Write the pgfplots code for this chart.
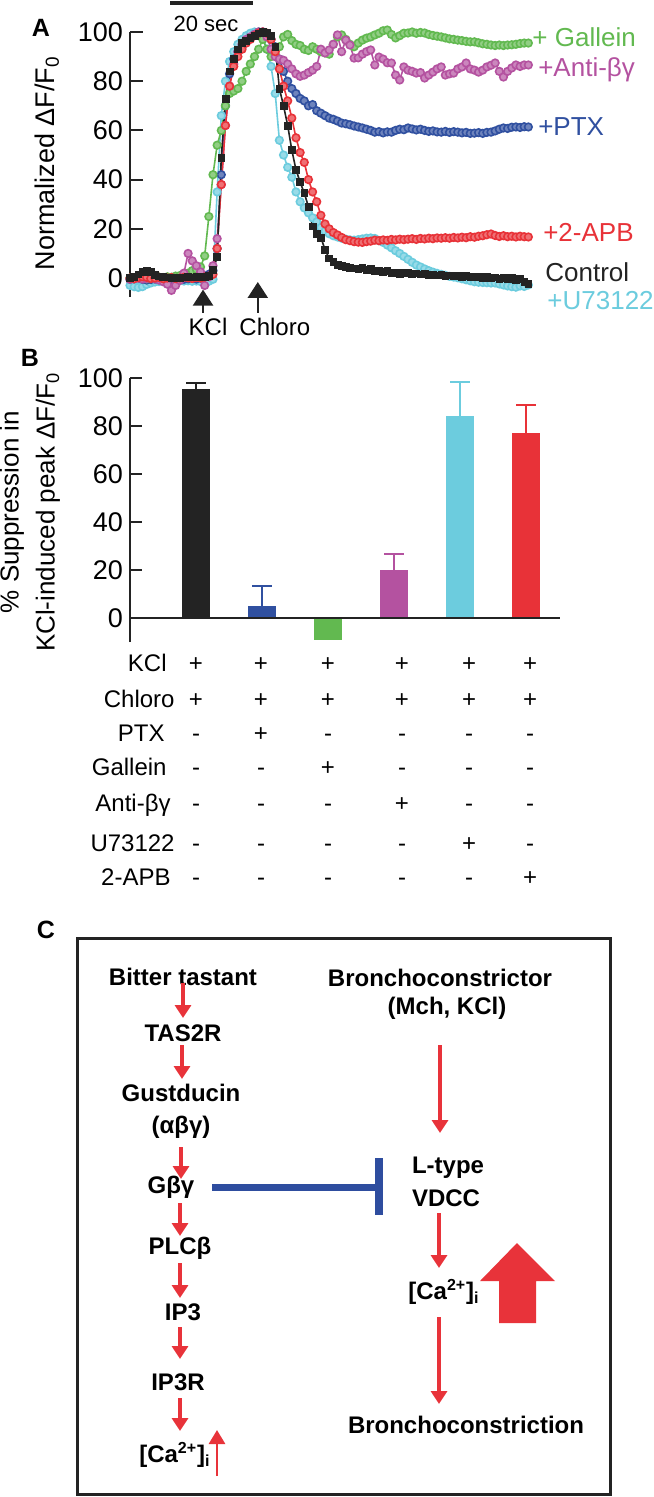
\documentclass[border=0pt]{standalone}
\usepackage{fontspec}
\setmainfont{Liberation Sans}
\usepackage{pgfplots}
\pgfplotsset{compat=1.18}
\usetikzlibrary{arrows.meta}
\definecolor{cK}{RGB}{35,35,35}
\definecolor{cG}{RGB}{98,185,80}
\definecolor{cP}{RGB}{180,82,160}
\definecolor{cB}{RGB}{48,80,160}
\definecolor{cR}{RGB}{232,50,56}
\definecolor{cC}{RGB}{108,204,222}
\definecolor{cRR}{RGB}{232,51,58}
\definecolor{cBB}{RGB}{46,77,159}
\newcommand{\fs}[1]{\fontsize{#1}{#1}\selectfont}
\pgfplotsset{
  trc/.style={color=#1, line width=0.8pt, mark=*, mark size=1.9pt,
    mark options={line width=0.8pt, draw=#1, fill=#1!70!white}},
}
\begin{document}
\begin{tikzpicture}
\fill[white] (0,0) rectangle (326.5pt,-748.5pt);
\path[use as bounding box] (0,0) rectangle (326.5pt,-748.5pt);

% ---------------- Panel A ----------------
\begin{axis}[
  at={(65pt,-148.5pt)}, anchor=south west,
  scale only axis, width=200pt, height=132.5pt,
  xmin=0, xmax=96.4, ymin=-7.7, ymax=100,
  axis x line=none, axis y line=left,
  y axis line style={-, line width=1pt, color=cK},
  ytick={0,20,40,60,80,100},
  tick align=inside, major tick length=6.5pt,
  ytick style={line width=1pt, color=cK},
  yticklabel style={font=\fs{13.5}},
  /pgf/number format/assume math mode=true,
  clip=false,
]
% +U73122
\addplot[trc=cC] coordinates {(0,-3)(1,-3.5)(2,-3.8)(3,-3.5)(4,-2.6)(5,-2)(6,-1.6)(7,-1.4)(8,-1.2)(9,-1.3)(10,-1.1)(11,-1.2)(12,-1)(13,-1.2)(14,-1.1)(15,-1.3)(16,-1.2)(17,-1.4)(18,-1.5)(19,-1.3)(20,-0.5)(21,35)(22,66)(23,80)(24,88)(25,92)(26,95)(27,97)(28,98.5)(29,99.5)(30,100)(31,99.8)(32,98)(33,93)(34,86)(35,75)(36,56)(37,50)(38,45)(39,41)(40,35)(41,31)(42,28.5)(43,26.5)(44,24.5)(45,22.8)(46,20.5)(47,19)(48,18)(49,17.2)(50,16.7)(51,16.2)(52,15.8)(53,15.5)(54,15.4)(55,15.6)(56,15.9)(57,16.2)(58,16.3)(59,16.1)(60,15.2)(61,14.5)(62,13.4)(63,12.3)(64,11.1)(65,10)(66,8.8)(67,7.6)(68,6.4)(69,5.3)(70,4.5)(71,3.7)(72,3)(73,2.4)(74,1.9)(75,1.5)(76,1.1)(77,0.7)(78,0.4)(79,0.1)(80,-0.3)(81,-0.7)(82,-1.1)(83,-1.5)(84,-1.7)(85,-1.8)(86,-1.9)(87,-2)(88,-2)(89,-2.4)(90,-2.8)(91,-3.2)(92,-3.5)(93,-3.7)(94,-3.2)(95,-3.4)(96,-2.8)};
% +PTX
\addplot[trc=cB] coordinates {(0,-0.5)(1,-0.3)(2,0)(3,-0.5)(4,-0.8)(5,-0.6)(6,-0.4)(7,-0.7)(8,-0.5)(9,-0.3)(10,-0.6)(11,-0.4)(12,-0.2)(13,-0.5)(14,-0.3)(15,-0.1)(16,-0.4)(17,0)(18,0.5)(19,1.5)(20,3)(21,12)(22,42)(23,70)(24,83)(25,89)(26,92)(27,94)(28,96)(29,97.5)(30,99)(31,100)(32,100)(33,99)(34,97)(35,94)(36,89)(37,84)(38,80)(39,77)(40,75)(41,73)(42,72)(43,70)(44,70.5)(45,68)(46,67)(47,66)(48,65)(49,64.5)(50,63.8)(51,63)(52,62.7)(53,62.3)(54,61.8)(55,61.4)(56,61)(57,60.5)(58,60)(59,59.3)(60,59.5)(61,59)(62,59.4)(63,59.3)(64,60)(65,60.5)(66,60.3)(67,61)(68,60.6)(69,60.2)(70,60.5)(71,60)(72,59.6)(73,59.8)(74,59.4)(75,59.3)(76,59.6)(77,59.2)(78,59.5)(79,59.3)(80,59)(81,59.2)(82,58.8)(83,58.9)(84,59.1)(85,58.8)(86,59.2)(87,59.3)(88,59.8)(89,60.5)(90,61)(91,60.8)(92,61.3)(93,61.4)(94,61.2)(95,61.5)(96,61.4)};
% + Gallein
\addplot[trc=cG] coordinates {(0,0)(1,-0.2)(2,0.3)(3,0)(4,-0.3)(5,0.2)(6,0)(7,0.4)(8,0.2)(9,0.5)(10,0.3)(11,0.8)(12,1)(13,1.5)(14,2)(15,3)(16,3.5)(17,4.5)(18,9)(19,25)(20,42)(21,54)(22,60)(23,70)(24,75)(25,76)(26,77)(27,80)(28,84)(29,87)(30,90)(31,93)(32,97)(33,93)(34,90)(35,91)(36,94)(37,98)(38,99)(39,96.5)(40,95)(41,94.5)(42,93)(43,92.5)(44,94)(45,93)(46,92)(47,91.5)(48,91)(49,95)(50,98)(51,98.8)(52,97)(53,95)(54,94)(55,95.5)(56,96.7)(57,97.5)(58,98)(59,98.8)(60,99.5)(61,100.5)(62,100.8)(63,99)(64,97.6)(65,98.5)(66,99.5)(67,99.6)(68,100)(69,99.5)(70,99.8)(71,99.6)(72,99)(73,98.6)(74,98.3)(75,98)(76,97.6)(77,97.2)(78,97)(79,96.7)(80,96.5)(81,96.2)(82,96)(83,96)(84,95.6)(85,95.2)(86,95)(87,94.7)(88,94.5)(89,94.7)(90,94.5)(91,94.7)(92,94.8)(93,95)(94,95.3)(95,95.5)(96,95.5)};
% +Anti-beta-gamma
\addplot[trc=cP] coordinates {(0,-0.5)(1,-0.3)(2,0)(3,-0.4)(4,-0.2)(5,0.2)(6,-0.3)(7,-0.8)(8,-1.5)(9,-2.5)(10,-5)(11,-3)(12,-1)(13,2)(14,10)(15,7)(16,5)(17,2.5)(18,-3)(19,0.5)(20,5)(21,16)(22,38)(23,62)(24,78)(25,87)(26,92)(27,95)(28,97)(29,98)(30,99)(31,100)(32,100)(33,98)(34,93)(35,90)(36,89)(37,88.5)(38,87)(39,85)(40,83)(41,82)(42,82.5)(43,83.5)(44,84.5)(45,86)(46,93)(47,91.5)(48,92.7)(49,95)(50,98.8)(51,92)(52,96.7)(53,94.7)(54,89.4)(55,89.5)(56,91)(57,92)(58,92.7)(59,86.6)(60,89.8)(61,89)(62,87.5)(63,87.4)(64,82.5)(65,80.5)(66,85.8)(67,84.5)(68,84)(69,83.3)(70,83.5)(71,81.3)(72,82.5)(73,83.7)(74,85)(75,85.8)(76,82.5)(77,83)(78,83.3)(79,85)(80,85.8)(81,87.4)(82,85)(83,84.5)(84,83.7)(85,84.5)(86,85.8)(87,86.5)(88,87.4)(89,84)(90,81.7)(91,84)(92,85.4)(93,86.6)(94,86)(95,86.6)(96,86.6)};
% +2-APB
\addplot[trc=cR] coordinates {(0,0)(1,-0.3)(2,0.2)(3,0.5)(4,0.3)(5,-0.2)(6,0)(7,0.3)(8,-0.3)(9,0)(10,0.2)(11,-0.2)(12,0)(13,0.3)(14,0.1)(15,-0.2)(16,0.2)(17,0)(18,0.4)(19,0.8)(20,1.5)(21,12)(22,38)(23,62)(24,78)(25,86)(26,90)(27,93)(28,95.5)(29,97)(30,98.5)(31,99.5)(32,100)(33,99.5)(34,97)(35,92)(36,85)(37,78)(38,72)(39,65)(40,57)(41,51)(42,47)(43,40)(44,35)(45,31)(46,25.5)(47,22)(48,20)(49,18.5)(50,17.5)(51,16.5)(52,15.6)(53,15.2)(54,14.8)(55,14.6)(56,14.5)(57,14.8)(58,15)(59,15.4)(60,15.2)(61,15.5)(62,15.3)(63,15.7)(64,15.5)(65,15.8)(66,15.6)(67,15.8)(68,16)(69,15.7)(70,16.1)(71,15.9)(72,16.2)(73,16)(74,16.3)(75,16.2)(76,16.4)(77,16.2)(78,16.5)(79,16.3)(80,16.6)(81,16.4)(82,16.8)(83,16.6)(84,17)(85,17.2)(86,17.6)(87,17.9)(88,17.3)(89,16.9)(90,17.2)(91,16.8)(92,17)(93,16.7)(94,17)(95,16.8)(96,16.7)};
% Control
\addplot[color=cK, line width=0.8pt, mark=square*, mark size=1.7pt, mark options={fill=cK, line width=0.3pt}] coordinates {(0,0.2)(1,0.5)(2,1.5)(3,2.6)(4,2.8)(5,2.4)(6,1.2)(7,0.7)(8,0.5)(9,0.3)(10,0.2)(11,0.3)(12,0.1)(13,0.3)(14,0.5)(15,0.3)(16,0.4)(17,0.4)(18,0.6)(19,0.9)(20,3.2)(21,8.5)(22,49)(23,73)(24,84)(25,89)(26,93)(27,95.5)(28,96.5)(29,97.5)(30,98.5)(31,99.5)(32,100)(33,99.6)(34,98.5)(35,94)(36,77)(37,70)(38,62)(39,52)(40,44)(41,39)(42,34.5)(43,29)(44,21)(45,18)(46,16.5)(47,11.5)(48,8)(49,6.5)(50,5.5)(51,5)(52,4.5)(53,4.2)(54,4)(55,3.6)(56,4.1)(57,3.3)(58,3.6)(59,2.8)(60,3.1)(61,2.4)(62,2.8)(63,2)(64,2.3)(65,1.8)(66,2.1)(67,2)(68,1.6)(69,1.9)(70,1.5)(71,1.7)(72,1.3)(73,1.5)(74,1.1)(75,1.2)(76,0.9)(77,1.1)(78,0.8)(79,1)(80,0.6)(81,0.8)(82,0.5)(83,0.4)(84,0.6)(85,0.2)(86,0.4)(87,0.1)(88,0.3)(89,-0.2)(90,0.2)(91,-0.3)(92,0.1)(93,-0.8)(94,-0.4)(95,-1.5)(96,-2.2)};
% scale bar and annotations
\draw[cK, line width=2pt] (axis cs:9.64,111.8) -- (axis cs:29.64,111.8);
\node[font=\fs{11}] at (axis cs:18.3,103.3) {20 sec};
\draw[cK, line width=1.2pt, -{Triangle[width=10pt,length=8pt]}] (axis cs:17.6,-14.2) -- (axis cs:17.6,-4.7);
\draw[cK, line width=1.2pt, -{Triangle[width=10pt,length=8pt]}] (axis cs:30.8,-14.2) -- (axis cs:30.8,-1.6);
\node[font=\fs{12}] at (axis cs:18.8,-19.9) {KCl};
\node[font=\fs{12}] at (axis cs:34.9,-19.9) {Chloro};
\node[anchor=west, inner sep=0, text=cG, font=\fs{13}] at (axis cs:96.9,98) {+ Gallein};
\node[anchor=west, inner sep=0, text=cP, font=\fs{13}] at (axis cs:98.3,84.6) {+Anti-βγ};
\node[anchor=west, inner sep=0, text=cB, font=\fs{13}] at (axis cs:98.3,61.4) {+PTX};
\node[anchor=west, inner sep=0, text=cR, font=\fs{13}] at (axis cs:99.5,18.7) {+2-APB};
\node[anchor=west, inner sep=0, text=cK, font=\fs{13}] at (axis cs:100,2.4) {Control};
\node[anchor=west, inner sep=0, text=cC, font=\fs{13}] at (axis cs:100.5,-9.3) {+U73122};
\end{axis}

% ---------------- Panel B ----------------
\begin{axis}[
  at={(65pt,-321pt)}, anchor=south west,
  scale only axis, width=215pt, height=132pt,
  xmin=0, xmax=6.515, ymin=-10, ymax=100,
  axis x line=none, axis y line=left,
  y axis line style={-, line width=1pt, color=cK},
  ytick={0,20,40,60,80,100},
  tick align=inside, major tick length=6pt,
  ytick style={line width=1pt, color=cK},
  yticklabel style={font=\fs{13.5}},
  /pgf/number format/assume math mode=true,
  clip=false,
]
\addplot[ybar, bar width=14pt, bar shift=0pt, fill=cK, draw=none,
  error bars/.cd, y dir=plus, y explicit,
  error bar style={line width=1pt, cK},
  error mark options={rotate=90, mark size=5pt, line width=1pt, cK}]
  coordinates {(1,95.5) +- (0,2.3)};
\addplot[ybar, bar width=14pt, bar shift=0pt, fill=cB, draw=none,
  error bars/.cd, y dir=plus, y explicit,
  error bar style={line width=1pt, cB},
  error mark options={rotate=90, mark size=5pt, line width=1pt, cB}]
  coordinates {(2,5) +- (0,8.2)};
\addplot[ybar, bar width=14pt, bar shift=0pt, fill=cG, draw=none]
  coordinates {(3,-9)};
\addplot[ybar, bar width=14pt, bar shift=0pt, fill=cP, draw=none,
  error bars/.cd, y dir=plus, y explicit,
  error bar style={line width=1pt, cP},
  error mark options={rotate=90, mark size=5pt, line width=1pt, cP}]
  coordinates {(4,20.2) +- (0,6.5)};
\addplot[ybar, bar width=14pt, bar shift=0pt, fill=cC, draw=none,
  error bars/.cd, y dir=plus, y explicit,
  error bar style={line width=1pt, cC},
  error mark options={rotate=90, mark size=5pt, line width=1pt, cC}]
  coordinates {(5,84.2) +- (0,14)};
\addplot[ybar, bar width=14pt, bar shift=0pt, fill=cR, draw=none,
  error bars/.cd, y dir=plus, y explicit,
  error bar style={line width=1pt, cR},
  error mark options={rotate=90, mark size=5pt, line width=1pt, cR}]
  coordinates {(6,77.2) +- (0,11.7)};
\draw[cK, line width=1pt] (axis cs:0,0) -- (axis cs:6.515,0);
\end{axis}

% ---------------- Labels, table, panel C (pixel coordinates) ----------------
\begin{scope}[x=0.5pt, y=-0.5pt]
\node[font=\fs{12.5}\bfseries] at (41,28) {A};
\node[rotate=90, font=\fs{13.5}] at (47,163) {Normalized ΔF/F\textsubscript{0}};
\node[font=\fs{12.5}\bfseries] at (30,358) {B};
\node[rotate=90, font=\fontsize{13}{18}\selectfont, align=center] at (30,512)
  {\% Suppression in\\KCl-induced peak ΔF/F\textsubscript{0}};

% table
\foreach \lab/\xr/\yy in {KCl/167/663, Chloro/175/699, PTX/165/733, Gallein/167/767, Anti-βγ/171/803, U73122/175/843, 2-APB/171/877}
  \node[anchor=base east, inner sep=0, font=\fs{12}] at (\xr,\yy+8) {\lab};
\foreach \x/\a/\b/\c/\d/\e/\f/\g in {196/+/+/-/-/-/-/-, 261/+/+/+/-/-/-/-, 328/+/+/-/+/-/-/-, 402/+/+/-/-/+/-/-, 469/+/+/-/-/-/+/-, 530/+/+/-/-/-/-/+}{
  \node[anchor=base, inner sep=0, font=\fs{12}] at (\x,671) {\a};
  \node[anchor=base, inner sep=0, font=\fs{12}] at (\x,707) {\b};
  \node[anchor=base, inner sep=0, font=\fs{12}] at (\x,741) {\c};
  \node[anchor=base, inner sep=0, font=\fs{12}] at (\x,775) {\d};
  \node[anchor=base, inner sep=0, font=\fs{12}] at (\x,811) {\e};
  \node[anchor=base, inner sep=0, font=\fs{12}] at (\x,851) {\f};
  \node[anchor=base, inner sep=0, font=\fs{12}] at (\x,885) {\g};
}

% panel C
\node[font=\fs{12.5}\bfseries] at (46,930) {C};
\draw[cK, line width=1.5pt] (77,938) rectangle (610,1494);
\begin{scope}[font=\fs{12}\bfseries]
\node at (183,977) {Bitter tastant};
\node at (183,1033) {TAS2R};
\node at (181,1093) {Gustducin};
\node at (181,1127) {(αβγ)};
\node at (171,1187) {Gβγ};
\node at (180,1248) {PLCβ};
\node at (183,1312) {IP3};
\node at (178,1382) {IP3R};
\node at (175,1455) {[Ca\textsuperscript{2+}]\textsubscript{i}};
\node at (440,978) {Bronchoconstrictor};
\node at (447,1008) {(Mch, KCl)};
\node[anchor=west] at (405,1168) {L-type};
\node[anchor=west] at (405,1198) {VDCC};
\node at (444,1292) {[Ca\textsuperscript{2+}]\textsubscript{i}};
\node at (466,1425) {Bronchoconstriction};
\end{scope}
\begin{scope}[cRR, line width=2.2pt, -{Triangle[width=8pt,length=6.5pt]}]
\draw (183,983) -- (183,1018);
\draw (182,1045) -- (182,1079);
\draw (181,1147) -- (181,1179);
\draw (180,1203) -- (180,1236);
\draw (180,1263) -- (180,1298);
\draw (180,1327) -- (180,1359);
\draw (180,1398) -- (180,1431);
\draw (440,1045) -- (440,1133);
\draw (439,1213) -- (439,1268);
\draw (439,1317) -- (439,1404);
\end{scope}
\draw[cRR, line width=1.4pt, -{Triangle[width=8pt,length=7pt]}] (217,1476) -- (217,1430);
\fill[cRR] (499,1323) -- (499,1281) -- (480,1281) -- (517,1243) -- (555,1281) -- (536,1281) -- (536,1323) -- cycle;
\draw[cBB, line width=3.5pt] (212,1187) -- (379,1187);
\draw[cBB, line width=4pt] (379,1158) -- (379,1215);
\end{scope}
\end{tikzpicture}
\end{document}
